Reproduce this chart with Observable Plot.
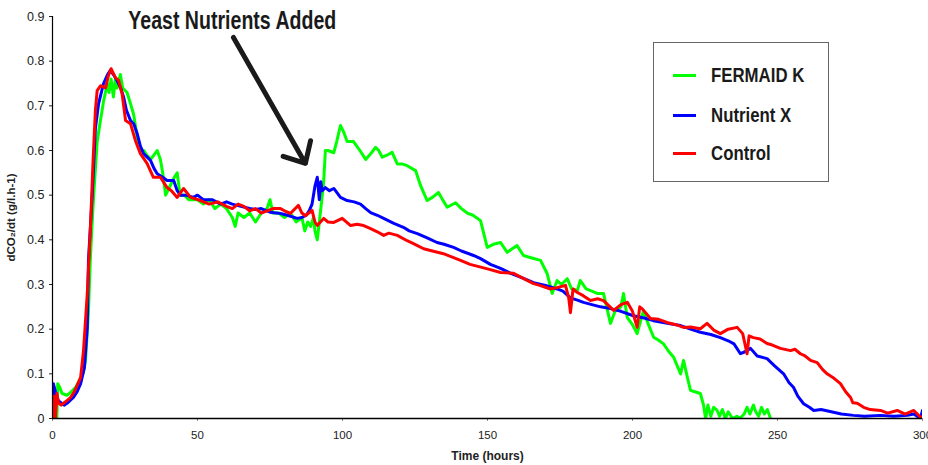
<!DOCTYPE html>
<html>
<head>
<meta charset="utf-8">
<script src="https://cdn.jsdelivr.net/npm/d3@7"></script>
<script src="https://cdn.jsdelivr.net/npm/@observablehq/plot@0.6"></script>
<style>
  html, body { margin: 0; padding: 0; background: #fff; }
  #wrap { position: relative; width: 928px; height: 465px; overflow: hidden; }
  #legend { position: absolute; left: 653px; top: 42px; width: 174px; height: 138px; border: 1.5px solid #666; background: #fff; }
  .item { position: absolute; left: 0; height: 24px; }
  .sw { position: absolute; left: 19px; width: 23px; height: 3px; }
  .lab { position: absolute; left: 57px; top: 0; font-family: "Liberation Sans", Arial, sans-serif; font-weight: bold; font-size: 21px; color: #1a1a1a; white-space: nowrap; line-height: 24px; transform: scaleX(0.8); transform-origin: left center; }
</style>
</head>
<body>
<div id="wrap"></div>
<script>
// series: [time (hours), dCO2/dt (g/l.h-1)]
const fermaidK = [[1.5,0],[1.8,0.078],[2.5,0.07],[3.3,0.056],[5,0.052],[6.8,0.062],[8,0.07],[9.7,0.09],[10.5,0.1],[11.4,0.13],[12.4,0.24],[13,0.35],[13.6,0.43],[14.2,0.5],[15.4,0.62],[16.6,0.67],[17.6,0.71],[18.9,0.75],[19.5,0.73],[20.2,0.76],[21,0.72],[21.7,0.76],[22.3,0.74],[23.4,0.77],[24.2,0.74],[25.7,0.73],[26.9,0.705],[28,0.68],[29.2,0.63],[30.3,0.6],[31.5,0.6],[32.5,0.59],[33.8,0.58],[35,0.59],[36.1,0.6],[37.2,0.58],[38,0.55],[39,0.5],[40.5,0.52],[42,0.54],[43,0.55],[44,0.5],[45.5,0.5],[47,0.49],[49.9,0.49],[52,0.48],[54,0.49],[56,0.47],[58,0.48],[60,0.47],[62,0.45],[63,0.43],[64,0.46],[66,0.45],[68,0.46],[70,0.44],[72,0.46],[74,0.47],[75,0.49],[76,0.46],[78,0.46],[80,0.45],[82,0.46],[84,0.44],[86,0.45],[87,0.42],[88,0.44],[89,0.43],[90,0.45],[90.5,0.42],[91.3,0.40],[92,0.44],[92.7,0.48],[93.5,0.53],[94.1,0.6],[95,0.6],[97,0.595],[98,0.62],[99.3,0.656],[100.5,0.64],[101.6,0.62],[103.8,0.62],[106,0.6],[108,0.58],[110,0.595],[111.4,0.607],[112.5,0.6],[113.7,0.585],[115.5,0.59],[117.1,0.596],[118.9,0.57],[120.5,0.57],[122.3,0.566],[125.2,0.555],[127,0.52],[129.2,0.488],[131,0.495],[133.1,0.506],[134.5,0.49],[136.1,0.473],[139,0.483],[141,0.47],[143,0.46],[145,0.455],[147.6,0.443],[149.9,0.383],[152,0.39],[154.5,0.394],[156.8,0.372],[158.5,0.38],[160.2,0.387],[162.4,0.365],[165,0.36],[168.3,0.354],[170.6,0.324],[172.3,0.28],[174,0.309],[175.5,0.3],[177.5,0.313],[179,0.29],[181,0.287],[182,0.309],[184,0.29],[186,0.285],[187.8,0.28],[190,0.28],[192.4,0.213],[194,0.24],[196,0.25],[196.9,0.28],[198.2,0.226],[200,0.21],[201.6,0.19],[203.8,0.242],[205.5,0.21],[207.3,0.182],[209,0.175],[210.7,0.167],[212.5,0.15],[214.2,0.137],[216.6,0.10],[217.6,0.13],[219,0.09],[220,0.063],[221.5,0.06],[223.4,0.056],[224.5,0.03],[225.2,0.0],[226,0.03],[227,0.005],[228,0.025],[229.2,0.018],[230,0.005],[231,0.02],[232,0],[233,0.015],[234.5,0.0],[236,0.005],[237,0],[238.5,0.01],[239.5,0.025],[240.5,0.01],[241.7,0.03],[242.5,0.015],[243.5,0.005],[244.5,0.025],[245.5,0.01],[246.5,0.02],[247.6,0]];

const nutrientX = [[0,0.0],[0.3,0.078],[1,0.06],[2,0.04],[2.8,0.036],[4,0.03],[5,0.034],[6,0.04],[7.2,0.047],[8.5,0.06],[9.7,0.078],[11,0.114],[12,0.204],[12.4,0.354],[13.7,0.5],[14.8,0.65],[15.9,0.705],[17.6,0.75],[19,0.77],[20,0.78],[21,0.77],[22.3,0.756],[23.5,0.74],[24.5,0.72],[25.5,0.69],[26.9,0.667],[28,0.66],[29.2,0.638],[30.3,0.61],[31.4,0.593],[33.8,0.578],[35,0.56],[36.1,0.548],[38,0.54],[39.5,0.533],[41.8,0.533],[43,0.51],[44.1,0.50],[46,0.5],[48.6,0.495],[50,0.5],[52,0.49],[55,0.49],[58,0.48],[60,0.485],[62,0.48],[65,0.475],[68,0.47],[70,0.468],[72,0.47],[75,0.462],[78.6,0.459],[81,0.455],[84.4,0.448],[86,0.45],[87.5,0.455],[88.5,0.465],[89.5,0.48],[90.5,0.52],[91.3,0.54],[92,0.49],[92.5,0.53],[93,0.51],[94.1,0.517],[95.5,0.51],[97,0.515],[99.3,0.495],[101.6,0.488],[104,0.485],[106.2,0.48],[108,0.47],[109.7,0.461],[112,0.455],[114.2,0.448],[117.7,0.437],[121,0.428],[123,0.42],[125.8,0.414],[129,0.405],[132.6,0.394],[135,0.39],[138.3,0.383],[141,0.375],[145.2,0.365],[147.6,0.358],[151,0.345],[154.5,0.336],[158,0.325],[162,0.315],[165.9,0.304],[170,0.298],[174,0.29],[176,0.285],[178.6,0.27],[181,0.265],[183.1,0.26],[186,0.255],[189,0.25],[192.4,0.246],[196,0.24],[200.3,0.23],[204,0.225],[207.2,0.219],[212,0.213],[216.6,0.208],[220,0.2],[223.4,0.193],[227,0.188],[230.3,0.181],[233,0.174],[235,0.167],[237.2,0.145],[239,0.15],[240.7,0.157],[243,0.14],[246.4,0.134],[249,0.118],[252.1,0.10],[254,0.08],[255.5,0.07],[257,0.05],[259,0.033],[261,0.025],[262.5,0.018],[265,0.02],[269.3,0.014],[272,0.01],[276.2,0.007],[280,0.005],[285.5,0.007],[290,0.005],[294.8,0.007],[297,0.01],[299.3,0],[300,0.018]];

const control = [[0,0.0],[0.5,0.05],[1,0.0],[1.5,0.056],[2.1,0.034],[3,0.03],[3.8,0.034],[5,0.04],[6.2,0.047],[7.5,0.06],[8.5,0.074],[9.7,0.092],[10.7,0.152],[12,0.28],[13.1,0.43],[14,0.578],[14.8,0.69],[15.4,0.734],[16.6,0.745],[18.3,0.74],[19.3,0.768],[20.2,0.783],[21.7,0.763],[22.8,0.757],[24,0.727],[25.2,0.667],[26.9,0.66],[28.6,0.622],[30.3,0.593],[32.6,0.571],[34.8,0.54],[37.2,0.54],[39.5,0.517],[41,0.51],[43,0.495],[45.2,0.515],[47.6,0.495],[51,0.488],[54,0.48],[57,0.485],[60,0.475],[62,0.47],[64,0.48],[66,0.475],[68,0.465],[70,0.47],[72,0.46],[74,0.465],[76,0.47],[78.6,0.47],[80,0.465],[82,0.459],[84.8,0.477],[86,0.46],[87.2,0.454],[89.5,0.466],[90.5,0.44],[91.3,0.432],[93.5,0.448],[95,0.44],[97,0.439],[99.9,0.448],[102.8,0.432],[105,0.435],[107.3,0.432],[109.7,0.425],[112,0.418],[114.2,0.41],[116,0.415],[118.9,0.41],[122.3,0.398],[125,0.39],[128,0.38],[131,0.375],[134.8,0.369],[138.3,0.36],[140.7,0.354],[144,0.345],[147,0.34],[150,0.335],[154.5,0.327],[159,0.325],[162,0.315],[165.9,0.302],[168,0.298],[171.7,0.29],[174,0.293],[176.9,0.298],[178,0.27],[178.6,0.237],[179.5,0.29],[181,0.282],[183,0.275],[185.5,0.264],[188,0.268],[190,0.264],[193.5,0.242],[196,0.255],[198.2,0.26],[200,0.24],[201.6,0.204],[202.5,0.25],[203.3,0.246],[206.2,0.224],[209,0.222],[211.9,0.215],[215,0.21],[217.6,0.204],[220,0.205],[223.4,0.201],[225.7,0.213],[228,0.198],[230.3,0.19],[233,0.2],[236.1,0.204],[238,0.19],[239.5,0.145],[240.2,0.185],[241.7,0.181],[244,0.178],[246.4,0.168],[248,0.165],[251,0.157],[254.5,0.152],[256,0.155],[257.9,0.145],[259.5,0.14],[261.4,0.13],[263.7,0.125],[265.5,0.11],[267.1,0.10],[269.5,0.09],[271.7,0.078],[273.5,0.06],[275.2,0.047],[276,0.035],[277.5,0.034],[279.7,0.025],[282,0.02],[285.5,0.018],[288,0.012],[291.3,0.018],[294,0.01],[297,0.018],[299,0.005],[300.3,0]];

const seriesNames = ["FERMAID K", "Nutrient X", "Control"];
const seriesColors = ["#00ff00", "#0000ff", "#ff0000"];
const xTicks = [0, 50, 100, 150, 200, 250, 300];
const yTicks = [0, 0.1, 0.2, 0.3, 0.4, 0.5, 0.6, 0.7, 0.8, 0.9];
const annotation = [{label: "Yeast Nutrients Added", t: 62, v: 0.889}];
const annotationArrow = [{t1: 62.4, v1: 0.853, t2: 87.2, v2: 0.571}];

const sans = '"Liberation Sans", Arial, sans-serif';

const chart = Plot.plot({
  width: 928,
  height: 465,
  marginLeft: 52,
  marginRight: 6,
  marginTop: 16,
  marginBottom: 47,
  style: {fontFamily: sans, fontSize: "12px", color: "#222", background: "#fff"},
  x: {domain: [0, 300]},
  y: {domain: [0, 0.9]},
  marks: [
    Plot.axisX({ticks: xTicks, tickSize: 3, tickPadding: 9, fontSize: 11.5, label: null, stroke: "#888"}),
    Plot.axisY({ticks: yTicks, tickSize: 3, tickPadding: 5, fontSize: 12.5, label: null, tickFormat: d => d === 0 ? "0" : d.toFixed(1)}),
    Plot.axisX({ticks: [], label: "Time (hours)", labelAnchor: "center", labelArrow: "none", labelOffset: 41, fontWeight: "bold", fontSize: 12}),
    Plot.axisY({ticks: [], label: "dCO₂/dt (g/l.h-1)", labelAnchor: "center", labelArrow: "none", labelOffset: 46, fontWeight: "bold", fontSize: 11.5}),
    Plot.line(fermaidK, {x: d => d[0], y: d => d[1], stroke: seriesColors[0], strokeWidth: 3, clip: true}),
    Plot.line(nutrientX, {x: d => d[0], y: d => d[1], stroke: seriesColors[1], strokeWidth: 3, clip: true}),
    Plot.line(control, {x: d => d[0], y: d => d[1], stroke: seriesColors[2], strokeWidth: 3, clip: true}),
    Plot.ruleX([0], {stroke: "#000", strokeWidth: 1.2}),
    Plot.ruleY([0], {stroke: "#000", strokeWidth: 1.5}),
    Plot.arrow(annotationArrow, {x1: "t1", y1: "v1", x2: "t2", y2: "v2", stroke: "#1a1a1a", strokeWidth: 5, headLength: 7, headAngle: 85}),
    Plot.text(annotation, {x: "t", y: "v", text: "label", fontSize: 25, fontWeight: "bold", fill: "#1a1a1a", className: "annot"})
  ]
});

// condense the annotation text to the narrow width of the original
d3.select(chart).selectAll("g.annot text")
  .attr("textLength", 208)
  .attr("lengthAdjust", "spacingAndGlyphs");

const wrap = document.getElementById("wrap");
wrap.appendChild(chart);

// legend
const legend = document.createElement("div");
legend.id = "legend";
const rowsTop = [20, 60, 98];
seriesNames.forEach((name, i) => {
  const item = document.createElement("div");
  item.className = "item";
  item.style.top = rowsTop[i] + "px";
  const sw = document.createElement("div");
  sw.className = "sw";
  sw.style.top = "11px";
  sw.style.background = seriesColors[i];
  const lab = document.createElement("div");
  lab.className = "lab";
  lab.textContent = name;
  item.appendChild(sw);
  item.appendChild(lab);
  legend.appendChild(item);
});
wrap.appendChild(legend);
</script>
</body>
</html>
